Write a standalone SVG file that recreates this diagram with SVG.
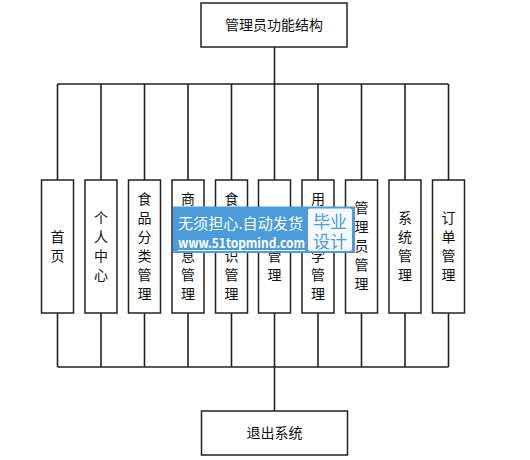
<svg xmlns="http://www.w3.org/2000/svg" width="530" height="460" viewBox="0 0 530 460">
<style>
.box{fill:#fff;stroke:#222;stroke-width:1.5}
.ln{fill:none;stroke:#222;stroke-width:1.6}
.t{font-family:"Noto Sans CJK SC","Noto Sans CJK JP",sans-serif;font-size:14px;fill:#111;text-anchor:middle}
.wm{font-family:"Noto Sans CJK SC","Liberation Sans",sans-serif;fill:#fff}
</style>
<rect width="530" height="460" fill="#fff"/>
<g id="connectors">
<path class="ln" d="M274.5 47V84M57.5 84H448.5M57.5 84V180M101 84V180M144.5 84V180M188 84V180M231.5 84V180M274.5 84V180M318 84V180M361.5 84V180M405 84V180M448.5 84V180"/>
<path class="ln" d="M57.5 313V367M101 313V367M144.5 313V367M188 313V367M231.5 313V367M274.5 313V367M318 313V367M361.5 313V367M405 313V367M448.5 313V367M57.5 367H448.5M274.5 367V411"/>
</g>
<g id="top"><rect class="box" x="201" y="3" width="146" height="44"/><text class="t" x="274" y="30">管理员功能结构</text></g>
<g id="n1"><rect class="box" x="41.5" y="180" width="32" height="133"/><text class="t"><tspan x="57.5" y="242">首</tspan><tspan x="57.5" y="261">页</tspan></text></g>
<g id="n2"><rect class="box" x="85" y="180" width="32" height="133"/><text class="t"><tspan x="101" y="223">个</tspan><tspan x="101" y="242">人</tspan><tspan x="101" y="261">中</tspan><tspan x="101" y="280">心</tspan></text></g>
<g id="n3"><rect class="box" x="128.5" y="180" width="32" height="133"/><text class="t"><tspan x="144.5" y="204">食</tspan><tspan x="144.5" y="223">品</tspan><tspan x="144.5" y="242">分</tspan><tspan x="144.5" y="261">类</tspan><tspan x="144.5" y="280">管</tspan><tspan x="144.5" y="299">理</tspan></text></g>
<g id="n4"><rect class="box" x="172" y="180" width="32" height="133"/><text class="t"><tspan x="188" y="204">商</tspan><tspan x="188" y="223">品</tspan><tspan x="188" y="242">信</tspan><tspan x="188" y="261">息</tspan><tspan x="188" y="280">管</tspan><tspan x="188" y="299">理</tspan></text></g>
<g id="n5"><rect class="box" x="215.5" y="180" width="32" height="133"/><text class="t"><tspan x="231.5" y="204">食</tspan><tspan x="231.5" y="223">品</tspan><tspan x="231.5" y="242">知</tspan><tspan x="231.5" y="261">识</tspan><tspan x="231.5" y="280">管</tspan><tspan x="231.5" y="299">理</tspan></text></g>
<g id="n6"><rect class="box" x="258.5" y="180" width="32" height="133"/><text class="t"><tspan x="274.5" y="223">用</tspan><tspan x="274.5" y="242">户</tspan><tspan x="274.5" y="261">管</tspan><tspan x="274.5" y="280">理</tspan></text></g>
<g id="n7"><rect class="box" x="302" y="180" width="32" height="133"/><text class="t"><tspan x="318" y="204">用</tspan><tspan x="318" y="223">户</tspan><tspan x="318" y="242">教</tspan><tspan x="318" y="261">学</tspan><tspan x="318" y="280">管</tspan><tspan x="318" y="299">理</tspan></text></g>
<g id="n8"><rect class="box" x="345.5" y="180" width="32" height="133"/><text class="t"><tspan x="361.5" y="213">管</tspan><tspan x="361.5" y="232">理</tspan><tspan x="361.5" y="251">员</tspan><tspan x="361.5" y="270">管</tspan><tspan x="361.5" y="289">理</tspan></text></g>
<g id="n9"><rect class="box" x="389" y="180" width="32" height="133"/><text class="t"><tspan x="405" y="223">系</tspan><tspan x="405" y="242">统</tspan><tspan x="405" y="261">管</tspan><tspan x="405" y="280">理</tspan></text></g>
<g id="n10"><rect class="box" x="432.5" y="180" width="32" height="133"/><text class="t"><tspan x="448.5" y="223">订</tspan><tspan x="448.5" y="242">单</tspan><tspan x="448.5" y="261">管</tspan><tspan x="448.5" y="280">理</tspan></text></g>
<g id="bottom"><rect class="box" x="201.5" y="411" width="146" height="44"/><text class="t" x="274.5" y="438">退出系统</text></g>
<g id="watermark">
<rect x="173" y="206.5" width="182" height="46.5" fill="#4b9cdc"/>
<rect x="308" y="208.5" width="44" height="42.5" rx="2" fill="#f4f9fd"/>
<text class="wm" x="178" y="229" font-size="15" textLength="125" lengthAdjust="spacingAndGlyphs">无须担心.自动发货</text>
<text class="wm" x="178" y="248" font-size="13" font-weight="bold" textLength="127" lengthAdjust="spacingAndGlyphs" font-family="Liberation Sans,sans-serif">www.51topmind.com</text>
<line x1="178" y1="250.5" x2="305" y2="250.5" stroke="#fff" stroke-width="1"/>
<text class="wm" x="330" y="228" font-size="17" text-anchor="middle" style="fill:#4b9cdc">毕业</text>
<text class="wm" x="330" y="248" font-size="17" text-anchor="middle" style="fill:#4b9cdc">设计</text>
</g>
</svg>
